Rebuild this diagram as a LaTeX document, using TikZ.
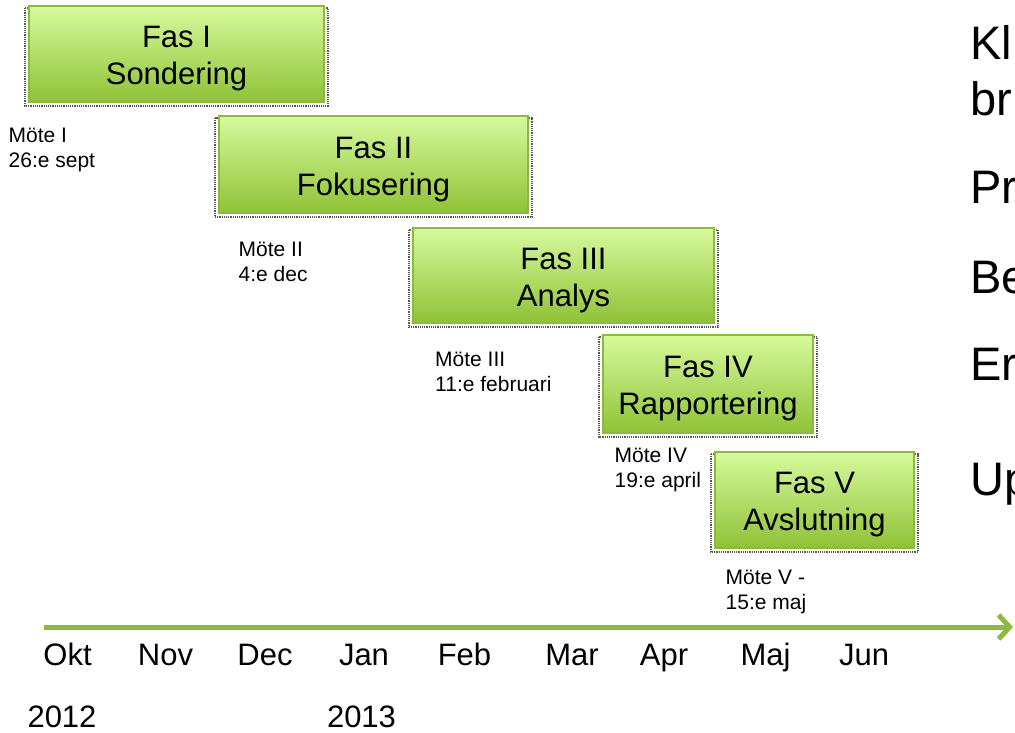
\documentclass[tikz,border=0pt]{standalone}
\usepackage{fontspec}
\setmainfont{Liberation Sans}
\usetikzlibrary{arrows.meta,backgrounds}
\definecolor{gtop}{RGB}{214,250,156}
\definecolor{gbot}{RGB}{143,194,55}
\definecolor{gline}{RGB}{140,186,62}
\definecolor{arrowgreen}{RGB}{141,187,62}
\tikzset{
  phase/.style={draw=gline, line width=2pt, top color=gtop, bottom color=gbot, inner sep=0pt},
  phasetext/.style={align=center, inner sep=0pt, font=\fontsize{31}{37}\selectfont},
  motetext/.style={align=left, inner sep=0pt, anchor=north west, font=\fontsize{21}{25}\selectfont},
  month/.style={anchor=base, inner sep=0pt, font=\fontsize{31}{37}\selectfont},
  sidetext/.style={anchor=base west, inner sep=0pt, font=\fontsize{47}{56}\selectfont},
  shadowline/.style={densely dotted, draw=black!65, line width=1.2pt},
  timeline/.style={draw=arrowgreen, line width=5pt, -{Straight Barb[length=11pt,width=24pt]}},
}
\begin{document}
\begin{tikzpicture}[x=1pt,y=-1pt]
\useasboundingbox (0,0) rectangle (1015,732);
\clip (0,0) rectangle (1015,732);

% phase boxes
\node[phase, minimum width=295pt, minimum height=96pt] (b1) at (176.5,54) {};
\node[phase, minimum width=309pt, minimum height=97pt] (b2) at (373.5,164.5) {};
\node[phase, minimum width=301pt, minimum height=95pt] (b3) at (563.5,275.5) {};
\node[phase, minimum width=210pt, minimum height=98pt] (b4) at (708,384) {};
\node[phase, minimum width=199pt, minimum height=96pt] (b5) at (814.5,500) {};

\begin{scope}[on background layer]
\fill[white] (0,0) rectangle (1015,732);
\foreach \b in {b1,b2,b3,b4,b5}
  \draw[shadowline] ([shift={(-3pt,-3pt)}]\b.north west) rectangle ([shift={(3pt,-3pt)}]\b.south east);
\end{scope}

\node[phasetext] (t1) at ([yshift=-5pt]b1.center) {Fas I\\Sondering};
\node[phasetext] (t2) at ([yshift=-5pt]b2.center) {Fas II\\Fokusering};
\node[phasetext] (t3) at ([yshift=-5pt]b3.center) {Fas III\\Analys};
\node[phasetext] (t4) at ([yshift=-5pt]b4.center) {Fas IV\\Rapportering};
\node[phasetext] (t5) at ([yshift=-5pt]b5.center) {Fas V\\Avslutning};

% meetings
\node[motetext] (m1) at (8.5,128) {Möte I\\26:e sept};
\node[motetext] (m2) at (238.5,241.7) {Möte II\\4:e dec};
\node[motetext] (m3) at (435,351.7) {Möte III\\11:e februari};
\node[motetext] (m4) at (614.5,448) {Möte IV\\19:e april};
\node[motetext] (m5) at (725.5,570) {Möte V -\\15:e maj};

% timeline
\coordinate (tl0) at (44,627);
\coordinate (tl1) at (1013,627);
\draw[timeline] (tl0) -- (tl1);

\node[month] (okt) at (67.5,665) {Okt};
\node[month] (nov) at (165.5,665) {Nov};
\node[month] (dec) at (265,665) {Dec};
\node[month] (jan) at (364,665) {Jan};
\node[month] (feb) at (464.5,665) {Feb};
\node[month] (mar) at (572,665) {Mar};
\node[month] (apr) at (664,665) {Apr};
\node[month] (maj) at (765.5,665) {Maj};
\node[month] (jun) at (864,665) {Jun};

\node[month] (y12) at (62,727) {2012};
\node[month] (y13) at (361.5,727) {2013};

% right-hand text (cut off at the edge)
\node[sidetext] (s1) at (970,59) {Kl};
\node[sidetext] (s2) at (970,115) {br};
\node[sidetext] (s3) at (970,203) {Pr};
\node[sidetext] (s4) at (970,293) {Be};
\node[sidetext] (s5) at (970,380) {Er};
\node[sidetext] (s6) at (970,495) {Up};
\end{tikzpicture}
\end{document}
